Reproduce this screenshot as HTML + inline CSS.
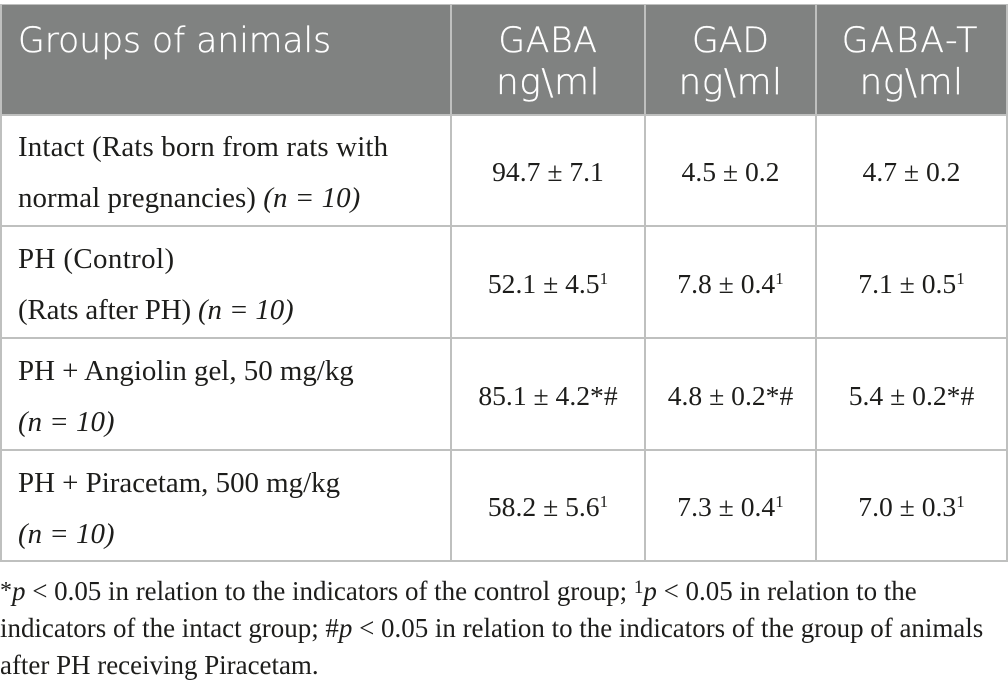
<!DOCTYPE html>
<html lang="en">
<head>
<meta charset="utf-8">
<title>GABA table</title>
<style>
html,body{margin:0;padding:0;background:#fff;}
#page{position:relative;width:1008px;height:688px;overflow:hidden;background:#fff;color:#1d1d1b;font-family:"Liberation Serif",serif;font-size:27.6px;}
.box{position:absolute;}
.line{position:absolute;background:#bfc0bf;}
.t{position:absolute;white-space:nowrap;line-height:30px;height:30px;}
.c{text-align:center;}
.lab{font-size:28.9px;}
.fn{font-size:26.95px;}
.fn sup{font-size:19px;top:-7px;}
.fn sup.ast{font-size:24px;top:-2px;}
.h{font-family:"DejaVu Sans",sans-serif;font-weight:200;font-size:34.5px;color:#fff;line-height:40px;height:40px;-webkit-text-stroke:0.35px #fff;}
.u{font-size:36px;letter-spacing:0.5px;}
sup{font-size:17px;line-height:0;vertical-align:baseline;position:relative;top:-9px;}
i{font-style:italic;}
</style>
</head>
<body>
<div id="page">
<div class="box" style="left:0;top:4px;width:1008px;height:111px;background:#808281;"></div>

<div class="line" style="left:0;top:4px;width:1008px;height:1px;"></div>
<div class="line" style="left:0;top:114px;width:1008px;height:2px;"></div>
<div class="line" style="left:0;top:225px;width:1008px;height:2px;"></div>
<div class="line" style="left:0;top:337px;width:1008px;height:2px;"></div>
<div class="line" style="left:0;top:449px;width:1008px;height:2px;"></div>
<div class="line" style="left:0;top:560px;width:1008px;height:2px;"></div>
<div class="line" style="left:0;top:4px;width:2px;height:558px;"></div>
<div class="line" style="left:450px;top:4px;width:2px;height:558px;"></div>
<div class="line" style="left:644px;top:4px;width:2px;height:558px;"></div>
<div class="line" style="left:815px;top:4px;width:2px;height:558px;"></div>
<div class="line" style="left:1006px;top:4px;width:2px;height:558px;"></div>

<div class="t h" style="left:18px;top:21px;">Groups of animals</div>
<div class="t h c" style="left:451px;width:194px;top:21px;letter-spacing:0.7px;">GABA</div>
<div class="t h c u" style="left:451px;width:194px;top:63px;">ng\ml</div>
<div class="t h c" style="left:645px;width:171px;top:21px;">GAD</div>
<div class="t h c u" style="left:645px;width:171px;top:63px;">ng\ml</div>
<div class="t h c" style="left:815px;width:191px;top:21px;letter-spacing:1.9px;">GABA-T</div>
<div class="t h c u" style="left:816px;width:191px;top:63px;">ng\ml</div>

<div class="t lab" style="left:18px;top:132px;letter-spacing:0.16px;">Intact (Rats born from rats with</div>
<div class="t lab" style="left:18px;top:183px;letter-spacing:0.07px;">normal pregnancies) <i>(n = 10)</i></div>
<div class="t c" style="left:451px;width:194px;top:157px;">94.7 ± 7.1</div>
<div class="t c" style="left:645px;width:171px;top:157px;">4.5 ± 0.2</div>
<div class="t c" style="left:816px;width:191px;top:157px;">4.7 ± 0.2</div>

<div class="t lab" style="left:18px;top:244px;letter-spacing:0.4px;">PH (Control)</div>
<div class="t lab" style="left:18px;top:295px;letter-spacing:-0.13px;">(Rats after PH) <i>(n = 10)</i></div>
<div class="t c" style="left:451px;width:194px;top:269px;">52.1 ± 4.5<sup>1</sup></div>
<div class="t c" style="left:645px;width:171px;top:269px;">7.8 ± 0.4<sup>1</sup></div>
<div class="t c" style="left:816px;width:191px;top:269px;">7.1 ± 0.5<sup>1</sup></div>

<div class="t lab" style="left:18px;top:356px;">PH + Angiolin gel, 50 mg/kg</div>
<div class="t lab" style="left:18px;top:407px;"><i>(n = 10)</i></div>
<div class="t c" style="left:451px;width:194px;top:381px;">85.1 ± 4.2*#</div>
<div class="t c" style="left:645px;width:171px;top:381px;">4.8 ± 0.2*#</div>
<div class="t c" style="left:816px;width:191px;top:381px;">5.4 ± 0.2*#</div>

<div class="t lab" style="left:18px;top:468px;">PH + Piracetam, 500 mg/kg</div>
<div class="t lab" style="left:18px;top:519px;"><i>(n = 10)</i></div>
<div class="t c" style="left:451px;width:194px;top:492px;">58.2 ± 5.6<sup>1</sup></div>
<div class="t c" style="left:645px;width:171px;top:492px;">7.3 ± 0.4<sup>1</sup></div>
<div class="t c" style="left:816px;width:191px;top:492px;">7.0 ± 0.3<sup>1</sup></div>

<div class="t fn" style="left:0;top:576px;"><sup class="ast">*</sup><i>p</i> &lt; 0.05 in relation to the indicators of the control group; <sup>1</sup><i>p</i> &lt; 0.05 in relation to the</div>
<div class="t fn" style="left:0;top:613px;">indicators of the intact group; #<i>p</i> &lt; 0.05 in relation to the indicators of the group of animals</div>
<div class="t fn" style="left:0;top:650px;">after PH receiving Piracetam.</div>
</div>
</body>
</html>
